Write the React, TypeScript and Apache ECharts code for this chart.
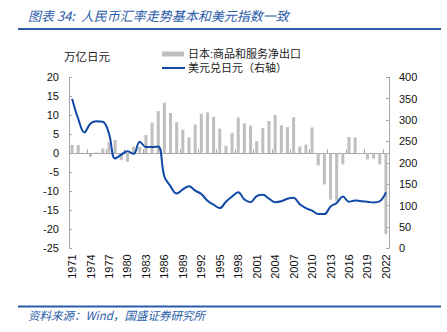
import React, { useEffect, useRef } from "react";
import * as echarts from "echarts";

const years = [
  "1971","1972","1973","1974","1975","1976","1977","1978","1979","1980",
  "1981","1982","1983","1984","1985","1986","1987","1988","1989","1990",
  "1991","1992","1993","1994","1995","1996","1997","1998","1999","2000",
  "2001","2002","2003","2004","2005","2006","2007","2008","2009","2010",
  "2011","2012","2013","2014","2015","2016","2017","2018","2019","2020",
  "2021","2022",
];

const netExports = [
  2.2, 2.2, 0.1, -0.9, 0.2, 1.3, 2.9, 3.5, -1.8, -2.2,
  1.8, 1.7, 4.8, 8.1, 11.1, 13.3, 10.6, 8.2, 6.2, 4.2,
  7.6, 10.4, 10.8, 9.6, 6.5, 2.0, 5.4, 9.4, 7.9, 7.3,
  3.2, 6.7, 8.5, 10.1, 7.4, 6.9, 9.5, 1.8, 2.3, 6.8,
  -3.2, -8.2, -12.2, -12.7, -2.9, 4.3, 4.2, -0.2, -1.6, -1.4,
  -2.9, -21.3,
];

const usdJpy = [
  350, 303, 271, 292, 297, 296, 268, 210, 219, 227,
  221, 249, 237, 237, 238, 168, 145, 128, 138, 145,
  135, 127, 111, 102, 94, 109, 121, 131, 114, 108,
  122, 125, 116, 108, 110, 116, 118, 103, 94, 88,
  80, 80, 98, 106, 121, 109, 112, 110, 109, 107,
  110, 131,
];

const titleText = "图表 34:  人民币汇率走势基本和美元指数一致";
const sourceText = "资料来源：Wind，国盛证券研究所";
const unitText = "万亿日元";
const barName = "日本:商品和服务净出口";
const lineName = "美元兑日元（右轴）";

const AXIS_GREY = "#a6a6a6";
const BAR_GREY = "#bfbfbf";
const BLUE = "#0f48a6";
const TITLE_BLUE = "#2a5caa";
const NUM_FONT = "'Liberation Sans', Arial, sans-serif";
const CJK_FONT = "'Noto Sans CJK SC', sans-serif";
const LEGEND_FONT = "'Liberation Sans', 'Noto Sans CJK SC', sans-serif";

export default function App() {
  const ref = useRef<HTMLDivElement>(null);
  useEffect(() => {
    if (!ref.current) return;
    const chart = echarts.init(ref.current, undefined, { renderer: "svg" });
    chart.setOption({
      animation: false,
      backgroundColor: "#ffffff",
      grid: { left: 69, right: 58, top: 77.3, bottom: 83.7, containLabel: false },
      xAxis: [
        {
          type: "category",
          data: years,
          boundaryGap: true,
          axisLine: { show: true, onZero: true, lineStyle: { color: AXIS_GREY, width: 1 } },
          axisTick: { show: true, inside: true, interval: 2, length: 4, lineStyle: { color: AXIS_GREY } },
          axisLabel: { show: false },
          splitLine: { show: false },
        },
        {
          type: "category",
          data: years,
          position: "bottom",
          boundaryGap: true,
          axisLine: { show: false, onZero: false },
          axisTick: { show: false },
          axisLabel: {
            show: true,
            interval: 2,
            rotate: 90,
            margin: 6,
            fontSize: 11,
            fontFamily: NUM_FONT,
            color: "#111",
          },
          splitLine: { show: false },
        },
      ],
      yAxis: [
        {
          type: "value",
          min: -25,
          max: 20,
          interval: 5,
          position: "left",
          axisLine: { show: true, lineStyle: { color: AXIS_GREY } },
          axisTick: { show: true, inside: true, length: 3, lineStyle: { color: AXIS_GREY } },
          axisLabel: { fontSize: 11, fontFamily: NUM_FONT, color: "#111", margin: 10 },
          splitLine: { show: false },
        },
        {
          type: "value",
          min: 0,
          max: 400,
          interval: 50,
          position: "right",
          axisLine: { show: true, lineStyle: { color: AXIS_GREY } },
          axisTick: { show: true, inside: true, length: 3, lineStyle: { color: AXIS_GREY } },
          axisLabel: { fontSize: 11, fontFamily: NUM_FONT, color: "#111", margin: 10 },
          splitLine: { show: false },
        },
      ],
      series: [
        {
          name: barName,
          type: "bar",
          xAxisIndex: 0,
          yAxisIndex: 0,
          data: netExports,
          barWidth: 3,
          itemStyle: { color: BAR_GREY },
        },
        {
          name: lineName,
          type: "line",
          xAxisIndex: 0,
          yAxisIndex: 1,
          data: usdJpy,
          smooth: 0.4,
          symbol: "none",
          lineStyle: { color: BLUE, width: 2 },
          itemStyle: { color: BLUE },
        },
      ],
      graphic: [
        {
          type: "text",
          left: 28,
          top: 9,
          style: {
            text: titleText,
            fontFamily: CJK_FONT,
            fontSize: 13,
            fontStyle: "italic",
            fill: TITLE_BLUE,
          },
        },
        {
          type: "rect",
          shape: { x: 18, y: 28, width: 423, height: 2 },
          style: { fill: TITLE_BLUE },
        },
        {
          type: "text",
          left: 64,
          top: 50,
          style: { text: unitText, fontFamily: CJK_FONT, fontSize: 11.5, fill: "#222" },
        },
        {
          type: "rect",
          shape: { x: 162, y: 51.5, width: 22, height: 5 },
          style: { fill: BAR_GREY },
        },
        {
          type: "text",
          x: 188,
          y: 54,
          style: {
            text: barName,
            fontFamily: LEGEND_FONT,
            fontSize: 11,
            lineHeight: 12,
            fill: "#222",
            verticalAlign: "middle",
          },
        },
        {
          type: "line",
          shape: { x1: 162, y1: 68, x2: 185, y2: 68 },
          style: { stroke: BLUE, lineWidth: 2 },
        },
        {
          type: "text",
          x: 188,
          y: 68,
          style: {
            text: lineName,
            fontFamily: LEGEND_FONT,
            fontSize: 11,
            lineHeight: 12,
            fill: "#222",
            verticalAlign: "middle",
          },
        },
        {
          type: "rect",
          shape: { x: 18, y: 305.5, width: 423, height: 2 },
          style: { fill: TITLE_BLUE },
        },
        {
          type: "text",
          left: 28,
          top: 309,
          style: {
            text: sourceText,
            fontFamily: CJK_FONT,
            fontSize: 11.5,
            fontStyle: "italic",
            fill: TITLE_BLUE,
          },
        },
      ],
    });
    return () => chart.dispose();
  }, []);
  return (
    <div
      ref={ref}
      style={{ position: "fixed", left: 0, top: 0, width: 447, height: 332 }}
    />
  );
}
